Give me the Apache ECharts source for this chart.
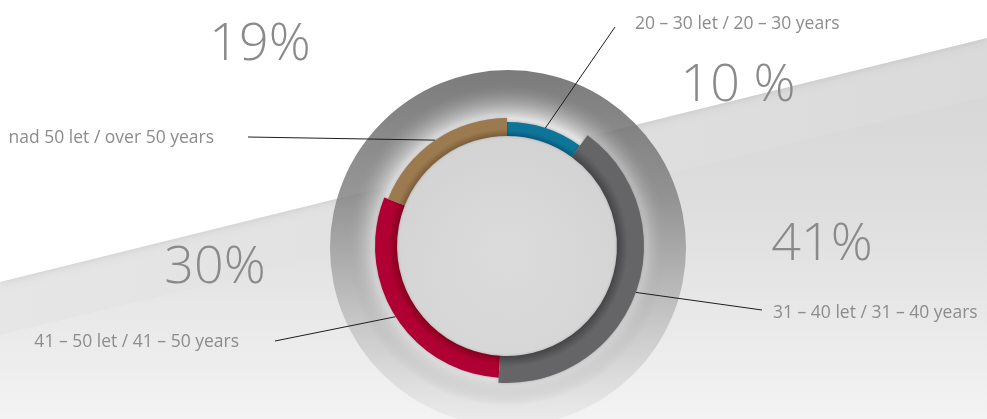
<!DOCTYPE html>
<html>
<head>
<meta charset="utf-8">
<script src="https://cdn.jsdelivr.net/npm/echarts@6/dist/echarts.min.js"></script>
<style>
  html, body { margin: 0; padding: 0; background: #fff; }
  #chart { width: 987px; height: 419px; }
</style>
</head>
<body>
<div id="chart"></div>
<script>
// data, in ring order starting at 12 o'clock, clockwise
const ageGroups = ['20 – 30 let / 20 – 30 years', '31 – 40 let / 31 – 40 years', '41 – 50 let / 41 – 50 years', 'nad 50 let / over 50 years']
const shares = [10, 41, 30, 19]
const shareLabels = ['10 %', '41%', '30%', '19%']

// styles
const CX = 507
const CY = 246
const INNER_R = 110
const outerR = [124, 137, 132, 128]
const ringColors = ['#0d7598', '#656567', '#b00033', '#9b7a4f']
const ringShade = ['#09587a', '#454547', '#86001f', '#7a5e3a']
const FONT = '"Open Sans", "DejaVu Sans", sans-serif'

// where the texts sit (label layout only)
const namePlace = [
  { x: 635, y: 24, align: 'left', end: [615, 27] },
  { x: 773, y: 313, align: 'left', end: [762, 310] },
  { x: 239, y: 342, align: 'right', end: [275, 341] },
  { x: 214, y: 138, align: 'right', end: [248, 137] }
]
const sharePlace = [
  { x: 738, y: 86 },
  { x: 822, y: 245 },
  { x: 215, y: 268 },
  { x: 260, y: 45 }
]

const chart = echarts.init(document.getElementById('chart'))

// radial shading so each piece looks a little like a tube
function tube(i) {
  const r = outerR[i]
  const t0 = INNER_R / r
  return new echarts.graphic.RadialGradient(CX, CY, r, [
    { offset: 0, color: ringShade[i] },
    { offset: t0, color: ringShade[i] },
    { offset: t0 + (1 - t0) * 0.4, color: ringColors[i] },
    { offset: 1, color: ringColors[i] }
  ], true)
}

// one series per ring piece so each piece can have its own thickness
const ringSeries = shares.map((_, i) => ({
  type: 'pie',
  name: ageGroups[i],
  center: [CX, CY],
  radius: [INNER_R, outerR[i]],
  startAngle: 90,
  clockwise: true,
  avoidLabelOverlap: false,
  silent: true,
  z: 3 + (i === 1 ? 1 : 0),
  itemStyle: { borderWidth: 0 },
  data: shares.map((v, j) => ({
    name: ageGroups[j],
    value: v,
    itemStyle: j === i
      ? { color: tube(i), shadowColor: 'rgba(0,0,0,0.22)', shadowBlur: 3 }
      : { color: 'rgba(0,0,0,0)', borderWidth: 0 },
    label: { show: j === i },
    labelLine: { show: j === i }
  })),
  label: {
    position: 'outside',
    formatter: '{b}',
    color: '#8c8c8c',
    fontSize: 17.5,
    fontFamily: FONT
  },
  labelLine: {
    lineStyle: { color: '#1e1e1e', width: 1 }
  },
  labelLayout: function (params) {
    const p = namePlace[params.dataIndex]
    const pts = params.labelLinePoints
    const out = { x: p.x, y: p.y, align: p.align, verticalAlign: 'middle' }
    if (pts && pts.length) out.labelLinePoints = [pts[0], p.end]
    return out
  },
  emphasis: { disabled: true }
}))

const shareSeries = {
  type: 'pie',
  name: 'share',
  center: [CX, CY],
  radius: [INNER_R, 137],
  startAngle: 90,
  silent: true,
  avoidLabelOverlap: false,
  z: 1,
  data: shares.map((v, j) => ({ name: ageGroups[j], value: v })),
  itemStyle: { color: 'rgba(0,0,0,0)', borderWidth: 0 },
  label: {
    show: true,
    position: 'outside',
    formatter: p => shareLabels[p.dataIndex],
    color: '#8a8a8a',
    fontSize: 52,
    fontWeight: 300,
    fontFamily: FONT
  },
  labelLine: { show: false },
  labelLayout: function (params) {
    const p = sharePlace[params.dataIndex]
    return { x: p.x, y: p.y, align: 'center', verticalAlign: 'middle' }
  },
  emphasis: { disabled: true }
}

const option = {
  animation: false,
  backgroundColor: '#ffffff',
  graphic: {
    elements: [
      {
        type: 'rect', z: -20, silent: true,
        shape: { x: 0, y: 0, width: 987, height: 419 },
        style: {
          fill: new echarts.graphic.LinearGradient(0, 0, 0, 1, [
            { offset: 0, color: '#d2d2d2' },
            { offset: 0.5, color: '#dedede' },
            { offset: 1, color: '#f3f3f3' }
          ])
        }
      },
      {
        type: 'polygon', z: -19, silent: true,
        shape: { points: [[0, 282], [987, 38], [987, 96], [0, 335]] },
        style: {
          fill: new echarts.graphic.LinearGradient(0, 0, 1, 0, [
            { offset: 0, color: '#e6e6e6' },
            { offset: 1, color: '#dadada' }
          ])
        }
      },
      {
        type: 'polygon', z: -18, silent: true,
        shape: { points: [[0, 0], [987, 0], [987, 38], [0, 282]] },
        style: { fill: '#ffffff', shadowColor: 'rgba(0,0,0,0.12)', shadowBlur: 8 }
      },
      {
        type: 'circle', z: -10, silent: true,
        shape: { cx: CX + 1, cy: CY + 2, r: 178 },
        style: {
          opacity: 0.86,
          fill: new echarts.graphic.LinearGradient(0, 0, 0, 1, [
            { offset: 0, color: '#666666' },
            { offset: 0.35, color: '#858585' },
            { offset: 0.7, color: '#c0c0c0' },
            { offset: 1, color: '#ececec' }
          ])
        }
      },
      {
        type: 'circle', z: -9, silent: true,
        shape: { cx: CX, cy: CY, r: 160 },
        style: {
          fill: new echarts.graphic.RadialGradient(0.5, 0.5, 0.5, [
            { offset: 0, color: 'rgba(222,222,222,0.96)' },
            { offset: 0.68, color: 'rgba(215,215,215,0.95)' },
            { offset: 0.8, color: 'rgba(236,236,236,0.9)' },
            { offset: 0.9, color: 'rgba(200,200,200,0.45)' },
            { offset: 1, color: 'rgba(160,160,160,0)' }
          ])
        }
      }
    ]
  },
  series: ringSeries.concat([shareSeries])
}

chart.setOption(option)
</script>
</body>
</html>
